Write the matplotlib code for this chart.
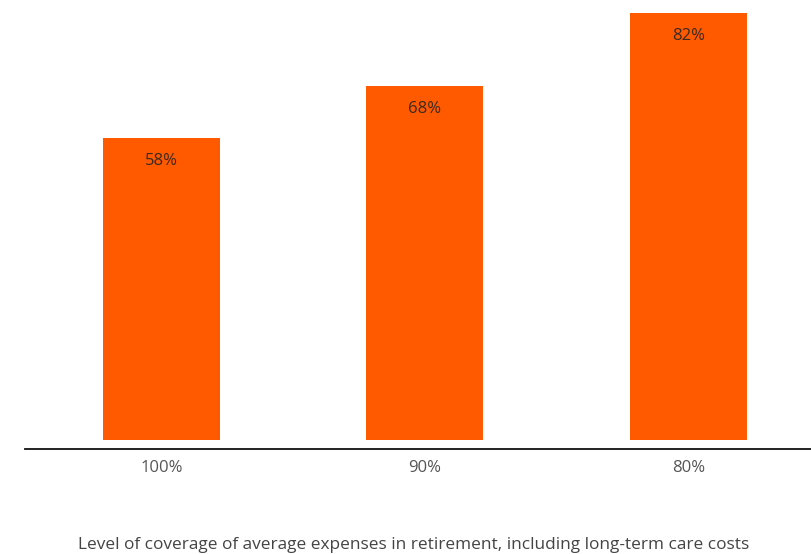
import matplotlib
matplotlib.use("Agg")
import matplotlib.pyplot as plt

categories = ["100%", "90%", "80%"]
values = [58, 68, 82]
value_labels = ["58%", "68%", "82%"]
xlabel = "Level of coverage of average expenses in retirement, including long-term care costs"

plt.rcParams['font.family'] = ['Open Sans', 'DejaVu Sans']

fig = plt.figure(figsize=(8.12, 5.54), dpi=100)
ax = fig.add_axes([25 / 812, 105 / 554, 787 / 812, 449 / 554])

x = list(range(len(categories)))
bars = ax.bar(x, values, width=0.444, color="#FF5A00")

for b, lab in zip(bars, value_labels):
    ax.annotate(lab, (b.get_x() + b.get_width() / 2, b.get_height()),
                xytext=(0, -16.5), textcoords="offset points",
                ha="center", va="center", fontsize=12, color="#3a2a20")

ax.set_xlim(-0.518, 2.469)
ax.set_ylim(-1.72, 84.5)
ax.set_xticks(x)
ax.set_xticklabels(categories, fontsize=12, color="#555555")
ax.tick_params(axis="x", length=0, pad=8)
ax.set_yticks([])
for s in ["top", "right", "left"]:
    ax.spines[s].set_visible(False)
ax.spines["bottom"].set_color("#111111")
ax.spines["bottom"].set_linewidth(1.3)

fig.text(414 / 812, 1 - 545 / 554, xlabel, ha="center", va="center",
         fontsize=12.4, color="#444444")

fig.savefig("out.png", dpi=100)
